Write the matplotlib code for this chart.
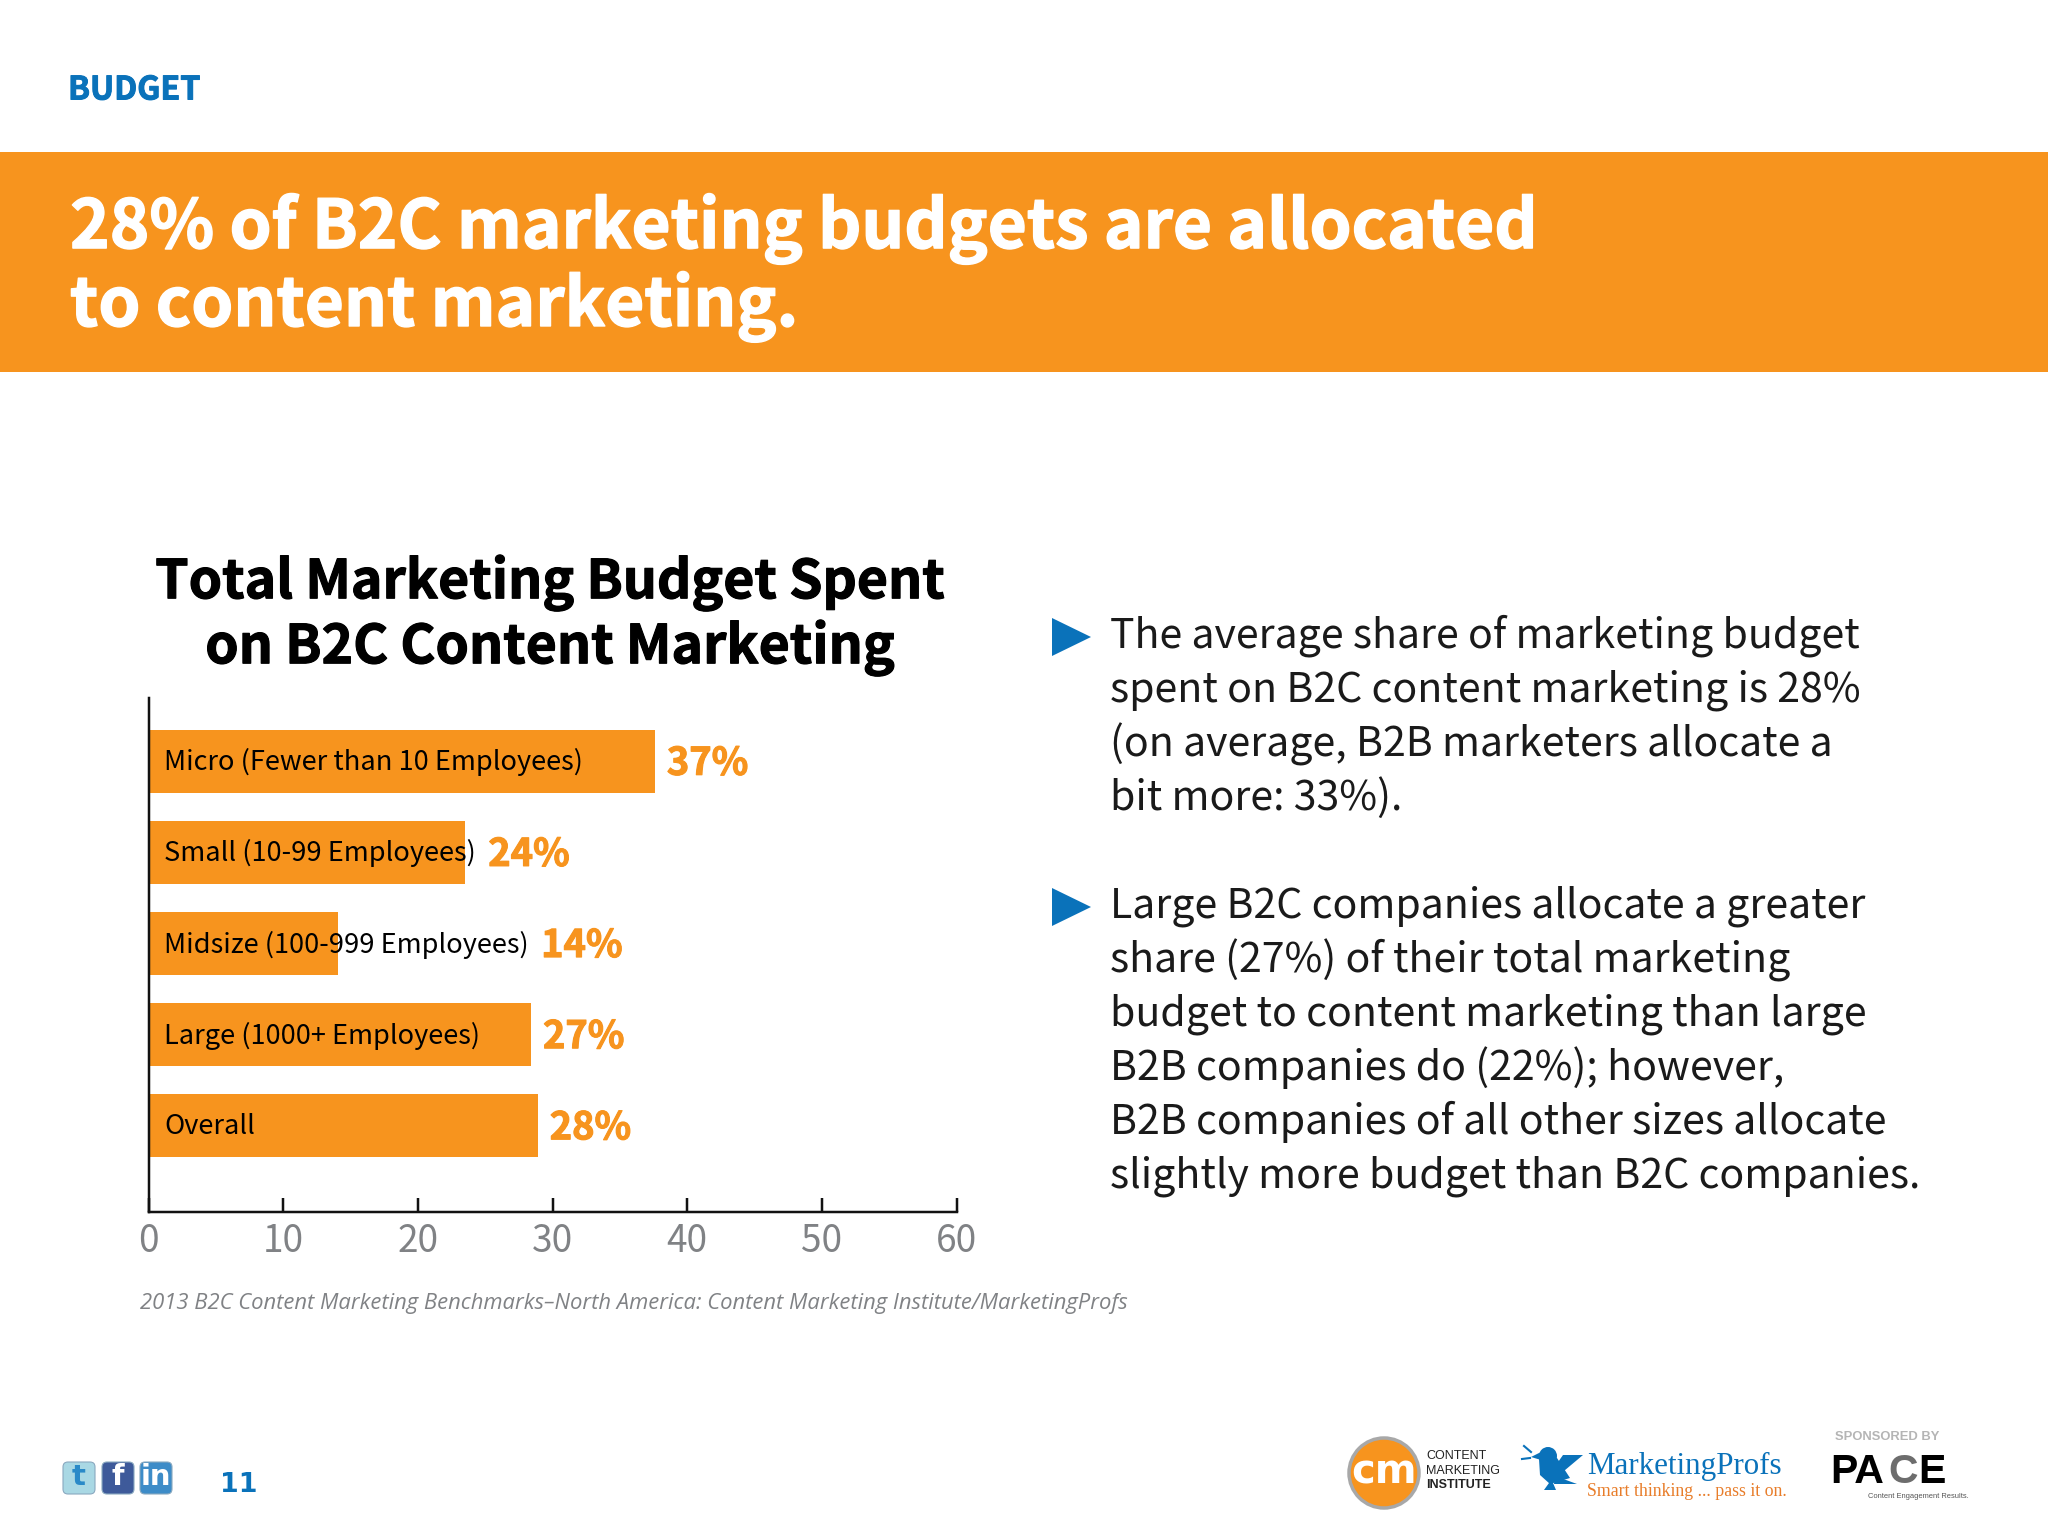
#!/usr/bin/env python3
import matplotlib

matplotlib.use("Agg")
import matplotlib.pyplot as plt
import matplotlib.patheffects as pe
from matplotlib.patches import Circle, FancyBboxPatch, Polygon, Rectangle

W, H = 2048, 1536
FONT = ["Noto Sans CJK JP", "DejaVu Sans"]
ORANGE = "#F7941E"
BLUE = "#0A72BA"
GREY = "#808285"

categories = [
    "Micro (Fewer than 10 Employees)",
    "Small (10-99 Employees)",
    "Midsize (100-999 Employees)",
    "Large (1000+ Employees)",
    "Overall",
]
bar_values = [37.6, 23.5, 14.05, 28.4, 28.9]
value_labels = ["37%", "24%", "14%", "27%", "28%"]
x_ticks = [0, 10, 20, 30, 40, 50, 60]

headline = ["28% of B2C marketing budgets are allocated", "to content marketing."]
chart_title = ["Total Marketing Budget Spent", "on B2C Content Marketing"]
bullet_one = [
    "The average share of marketing budget",
    "spent on B2C content marketing is 28%",
    "(on average, B2B marketers allocate a",
    "bit more: 33%).",
]
bullet_two = [
    "Large B2C companies allocate a greater",
    "share (27%) of their total marketing",
    "budget to content marketing than large",
    "B2B companies do (22%); however,",
    "B2B companies of all other sizes allocate",
    "slightly more budget than B2C companies.",
]
source = "2013 B2C Content Marketing Benchmarks\u2013North America: Content Marketing Institute/MarketingProfs"


def px(size):
    return size * 0.72


plt.rcParams["font.family"] = FONT
fig = plt.figure(figsize=(W / 100, H / 100), dpi=100, facecolor="white")

# page layer in pixel coordinates
page = fig.add_axes([0, 0, 1, 1], zorder=0)
page.set_xlim(0, W)
page.set_ylim(H, 0)
page.axis("off")


def put(x, y, s, size, color="black", weight="normal", ha="left", style="normal", family=None):
    return page.text(x, y, s, fontsize=px(size), color=color, weight=weight, ha=ha, va="center",
                     style=style, family=family or FONT)


def heavier(text, color, width):
    text.set_path_effects([pe.withStroke(linewidth=width, foreground=color)])


heavier(put(68, 90, "BUDGET", 32.3, BLUE, "bold"), BLUE, 0.7)
page.add_patch(Rectangle((0, 152), W, 220, color=ORANGE, lw=0))
for y, line in zip((229, 307), headline):
    heavier(put(70, y, line, 67.3, "white", "bold"), "white", 1.0)
for y, line in zip((583, 648), chart_title):
    heavier(put(550, y, line, 53.5, "black", "bold", ha="center"), "black", 0.8)

for tip_y, lines, ys in ((637, bullet_one, (636, 690, 744, 798)),
                         (907, bullet_two, (906, 960, 1014, 1068, 1122, 1176))):
    page.add_patch(Polygon([(1052, tip_y - 19), (1091, tip_y), (1052, tip_y + 19)], color=BLUE, lw=0))
    for y, line in zip(ys, lines):
        put(1110, y, line, 41.1, "#1a1a1a")

put(140, 1303, source, 22, GREY, style="italic", family=["Open Sans", "DejaVu Sans"])

# chart
ax = fig.add_axes([148.5 / W, 1 - 1212 / H, (956.5 - 148.5) / W, (1212 - 697.5) / H], zorder=1)
ax.patch.set_alpha(0)
positions = list(range(len(categories)))
ax.barh(positions, bar_values, height=0.69, color=ORANGE, lw=0)
ax.set_xlim(0, 60)
ax.set_ylim(4.946, -0.70)
ax.set_xticks(x_ticks)
ax.set_yticks([])
ax.tick_params(axis="x", direction="in", length=px(14), width=px(2.5), color="#111111",
               labelsize=px(37), labelcolor=GREY, pad=px(10))
for name in ("top", "right"):
    ax.spines[name].set_visible(False)
for name in ("left", "bottom"):
    ax.spines[name].set_linewidth(px(2.5))
    ax.spines[name].set_color("#111111")

fig.canvas.draw()
renderer = fig.canvas.get_renderer()
for pos, cat, val, lab in zip(positions, categories, bar_values, value_labels):
    t = ax.annotate(cat, (0, pos), xytext=(px(16), px(-1)), textcoords="offset points", va="center",
                    fontsize=px(27.2), color="black")
    end = max(t.get_window_extent(renderer).x1, ax.transData.transform((val, pos))[0])
    v = ax.annotate(lab, xy=(end, pos), xycoords=("figure pixels", "data"), xytext=(px(12), px(-2)),
                    textcoords="offset points", va="center", fontsize=px(38), color=ORANGE, weight="bold")
    heavier(v, ORANGE, 0.8)

# social icons and page number
for x, fc, s, col in ((63, "#A9D8E4", "t", "#2A8AC8"), (102, "#3E5A9A", "f", "white"), (140, "#3D8CC8", "in", "white")):
    page.add_patch(FancyBboxPatch((x + 2, 1464), 28, 28, boxstyle="round,pad=2,rounding_size=5",
                                  fc=fc, ec="#8aa9c0", lw=0.8))
    put(x + 16, 1477, s, 29, col, "bold", ha="center", family=["DejaVu Sans"])
put(220, 1485, "11", 27, BLUE, "bold", family=["DejaVu Sans"])

# logos
page.add_patch(Circle((1384, 1473), 35, fc=ORANGE, ec="#a8a8a8", lw=2.5))
put(1384, 1472, "cm", 40, "white", "bold", ha="center", family=["DejaVu Sans"])
arial = ["Liberation Sans", "DejaVu Sans"]
put(1426, 1456, "CONTENT", 12.5, "#222222", family=arial)
put(1426, 1471, "MARKETING", 12.5, "#222222", family=arial)
put(1426, 1485, "INSTITUTE", 12.5, "#222222", "bold", family=arial)
page.add_patch(Circle((1548, 1456), 9, color=BLUE, lw=0))
page.add_patch(Polygon([(1541, 1452), (1531, 1457), (1541, 1460)], color=BLUE, lw=0))
page.add_patch(Polygon([(1539, 1459), (1557, 1458), (1570, 1478), (1550, 1484), (1540, 1475)], color=BLUE, lw=0))
page.add_patch(Polygon([(1558, 1476), (1583, 1455), (1563, 1455), (1556, 1465)], color=BLUE, lw=0))
page.add_patch(Polygon([(1555, 1476), (1577, 1484), (1554, 1484)], color=BLUE, lw=0))
page.add_patch(Polygon([(1549, 1483), (1553, 1483), (1556, 1490), (1544, 1490)], color=BLUE, lw=0))
page.plot([1524, 1531], [1446, 1452], color=BLUE, lw=1.5)
page.plot([1522, 1530], [1459, 1458], color=BLUE, lw=1.5)
serif = ["Liberation Serif", "DejaVu Serif"]
put(1587, 1466, "MarketingProfs", 31, BLUE, family=serif)
put(1587, 1491, "Smart thinking ... pass it on.", 17.7, "#E87D2A", family=serif)
put(1887, 1437, "SPONSORED BY", 13, "#b5b5b5", "bold", ha="center", family=arial)
put(1830, 1472, "PA", 41, "black", "bold", family=arial)
put(1888, 1472, "C", 41, "#6d6d6d", "bold", family=arial)
put(1918, 1472, "E", 41, "black", "bold", family=arial)
put(1868, 1496, "Content Engagement Results.", 7.5, "#555555", family=arial)

fig.savefig("out.png", dpi=100, facecolor="white")
